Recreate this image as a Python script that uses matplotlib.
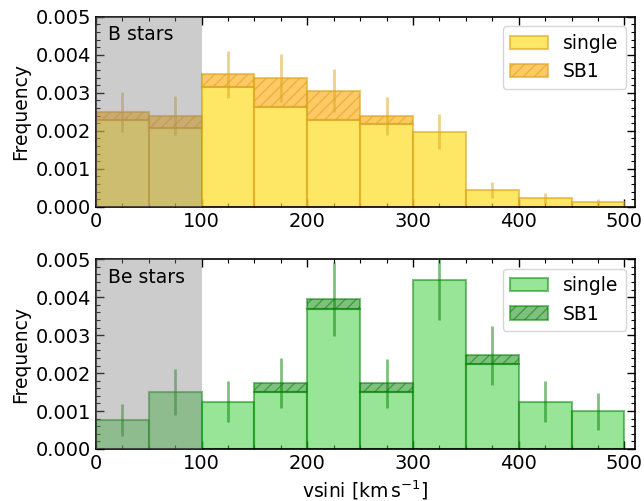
import numpy as np
import matplotlib
matplotlib.use('Agg')
import matplotlib.pyplot as plt
from matplotlib.ticker import AutoMinorLocator, MultipleLocator

# bin edges in vsini (km/s)
edges = np.arange(0, 550, 50)

# B stars
b_single = [2.28e-3, 2.06e-3, 3.16e-3, 2.62e-3, 2.28e-3, 2.18e-3, 1.97e-3, 0.44e-3, 0.22e-3, 0.12e-3]
b_sb1 = [0.22e-3, 0.34e-3, 0.33e-3, 0.76e-3, 0.78e-3, 0.22e-3, 0.0, 0.0, 0.0, 0.0]
b_err = [0.52e-3, 0.51e-3, 0.62e-3, 0.63e-3, 0.57e-3, 0.50e-3, 0.46e-3, 0.21e-3, 0.145e-3, 0.09e-3]

# Be stars
be_single = [0.76e-3, 1.50e-3, 1.25e-3, 1.49e-3, 3.70e-3, 1.49e-3, 4.45e-3, 2.23e-3, 1.25e-3, 0.99e-3]
be_sb1 = [0.0, 0.0, 0.0, 0.25e-3, 0.26e-3, 0.24e-3, 0.0, 0.24e-3, 0.0, 0.0]
be_err = [0.42e-3, 0.60e-3, 0.55e-3, 0.65e-3, 0.98e-3, 0.64e-3, 1.06e-3, 0.78e-3, 0.55e-3, 0.49e-3]

plt.rcParams['font.size'] = 13.5
plt.rcParams['xtick.labelsize'] = 14
plt.rcParams['ytick.labelsize'] = 14
plt.rcParams['xtick.direction'] = 'in'
plt.rcParams['ytick.direction'] = 'in'
plt.rcParams['xtick.top'] = True
plt.rcParams['ytick.right'] = True
plt.rcParams['hatch.linewidth'] = 1.0

fig = plt.figure(figsize=(6.44, 5.01), dpi=100)
ax1 = fig.add_axes([0.149, 0.5874, 0.837, 0.379])
ax2 = fig.add_axes([0.149, 0.1038, 0.837, 0.3786])

width = np.diff(edges)
centers = edges[:-1] + width / 2


def panel(ax, single, sb1, err, c_single, c_sb1, c_edge, alpha, name):
    single = np.array(single)
    sb1 = np.array(sb1)
    ax.bar(edges[:-1], single, width=width, align='edge', color=c_single, alpha=alpha,
           edgecolor=c_edge, linewidth=1.5, label='single', zorder=2)
    mask = sb1 > 0
    ax.bar(edges[:-1][mask], sb1[mask], width=width[mask], bottom=single[mask], align='edge',
           color=c_sb1, alpha=alpha, edgecolor=c_edge, linewidth=1.5, hatch='///',
           label='SB1', zorder=2)
    ax.errorbar(centers, single + sb1, yerr=err, fmt='none', ecolor=c_edge,
                alpha=0.5, elinewidth=2, zorder=3)
    ax.axvspan(0, 100, color='gray', alpha=0.4, lw=0, zorder=4)
    ax.set_xlim(0, 510)
    ax.set_ylim(0, 0.005)
    ax.set_ylabel('Frequency')
    ax.text(0.022, 0.955, name, transform=ax.transAxes, va='top', ha='left', zorder=5)
    ax.legend(loc='upper right')
    ax.xaxis.set_major_locator(MultipleLocator(100))
    ax.yaxis.set_major_locator(MultipleLocator(0.001))
    ax.xaxis.set_minor_locator(AutoMinorLocator(4))
    ax.yaxis.set_minor_locator(AutoMinorLocator(5))
    ax.tick_params(which='major', length=6, width=1)
    ax.tick_params(which='minor', length=3, width=0.8)
    for s in ax.spines.values():
        s.set_linewidth(1.2)


panel(ax1, b_single, b_sb1, b_err, 'gold', 'orange', 'goldenrod', 0.6, 'B stars')
panel(ax2, be_single, be_sb1, be_err, 'limegreen', 'green', 'green', 0.5, 'Be stars')
ax2.set_xlabel(r'vsini [$\mathrm{km\,s^{-1}}$]')

fig.savefig('out.png', dpi=100)
